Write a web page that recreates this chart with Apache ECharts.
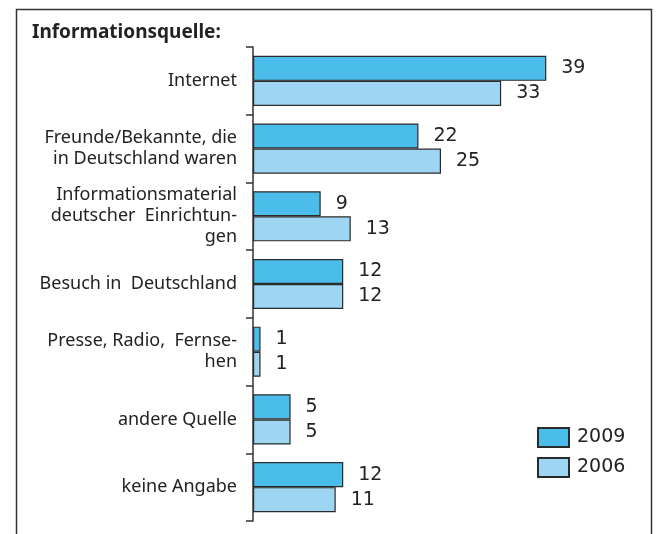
<!DOCTYPE html>
<html><head><meta charset="utf-8">
<script src="https://cdn.jsdelivr.net/npm/echarts@6/dist/echarts.min.js"></script>
<style>html,body{margin:0;padding:0;background:#fff}#c{width:656px;height:534px}</style>
</head><body><div id="c"></div>
<script>
const titleText = 'Informationsquelle:';
const categories = [
  'Internet',
  'Freunde/Bekannte, die\nin Deutschland waren',
  'Informationsmaterial\ndeutscher  Einrichtun-\ngen',
  'Besuch in  Deutschland',
  'Presse, Radio,  Fernse-\nhen',
  'andere Quelle',
  'keine Angabe'
];
const seriesNames = ['2009', '2006'];
const values2009 = [39, 22, 9, 12, 1, 5, 12];
const values2006 = [33, 25, 13, 12, 1, 5, 11];

const colors = ['#4bbdeb', '#9dd5f2'];
const chart = echarts.init(document.getElementById('c'), null, {renderer: 'canvas'});
const labelStyle = {show: true, position: 'right', distance: 15, fontSize: 19, fontFamily: 'DejaVu Sans', color: '#222'};
chart.setOption({
  animation: false,
  title: {text: titleText, left: 27, top: 18, textStyle: {fontFamily: 'Noto Sans', fontWeight: 'bold', fontSize: 19, color: '#222'}},
  legend: {
    orient: 'vertical', left: 532, top: 422, itemWidth: 31, itemHeight: 19, itemGap: 9, icon: 'rect',
    textStyle: {fontFamily: 'DejaVu Sans', fontSize: 19, color: '#222', padding: [0, 0, 0, 3]},
    data: seriesNames
  },
  graphic: [{type: 'polyline', silent: true, shape: {points: [[16.5, 540], [16.5, 9.5], [651.5, 9.5], [651.5, 540]]}, style: {stroke: '#333', lineWidth: 1.5, fill: null}}],
  grid: {left: 253, top: 47, height: 474, right: 27, containLabel: false},
  xAxis: {type: 'value', min: 0, max: 50, show: false},
  yAxis: {
    type: 'category', inverse: true, data: categories,
    axisLine: {show: true, lineStyle: {color: '#333', width: 1.5}},
    axisTick: {show: true, length: 7, lineStyle: {color: '#333', width: 1.5}},
    axisLabel: {margin: 16, fontFamily: 'Noto Sans', fontSize: 18, color: '#222', lineHeight: 21, align: 'right'},
    splitLine: {show: false}
  },
  series: [
    {name: seriesNames[0], type: 'bar', data: values2009, barGap: '0%', barCategoryGap: '26%',
     itemStyle: {color: colors[0], borderColor: '#2a2a2a', borderWidth: 1.2}, label: labelStyle},
    {name: seriesNames[1], type: 'bar', data: values2006, barGap: '0%', barCategoryGap: '26%',
     itemStyle: {color: colors[1], borderColor: '#2a2a2a', borderWidth: 1.2}, label: labelStyle}
  ]
});
</script></body></html>
